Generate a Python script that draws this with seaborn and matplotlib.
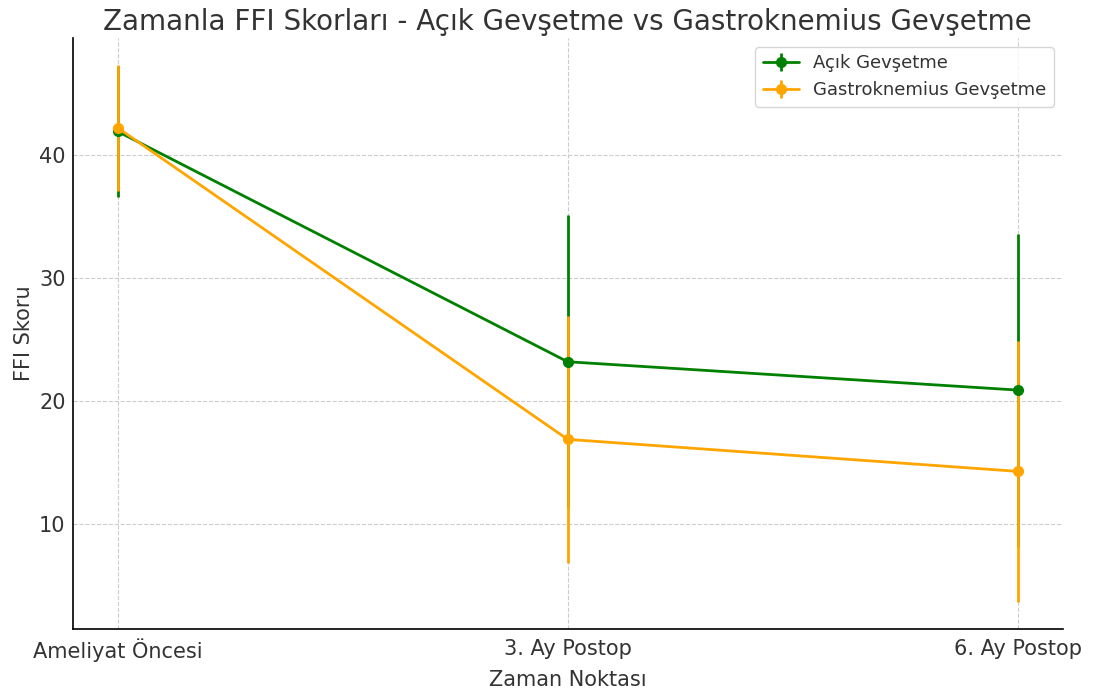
import matplotlib
matplotlib.use("Agg")
import matplotlib.pyplot as plt
import seaborn as sns
import numpy as np

time_points = ["Ameliyat Öncesi", "3. Ay Postop", "6. Ay Postop"]
acik_mean = [41.9, 23.2, 20.9]
acik_sd = [5.3, 11.9, 12.7]
gastro_mean = [42.2, 16.9, 14.3]
gastro_sd = [5.1, 10.0, 10.6]

sns.set_theme(style="whitegrid")
plt.rcParams['font.family'] = ['DejaVu Sans']

fig, ax = plt.subplots(figsize=(10.99, 6.91), dpi=100)
x = np.arange(len(time_points))
ax.errorbar(x, acik_mean, yerr=acik_sd, color="green", marker="o", markersize=7,
            linewidth=2, elinewidth=2, capsize=0, label="Açık Gevşetme")
ax.errorbar(x, gastro_mean, yerr=gastro_sd, color="orange", marker="o", markersize=7,
            linewidth=2, elinewidth=2, capsize=0, label="Gastroknemius Gevşetme")

ax.set_xticks(x)
ax.set_xticklabels(time_points)
ax.set_title("Zamanla FFI Skorları - Açık Gevşetme vs Gastroknemius Gevşetme", fontsize=20, color="#333333")
ax.set_xlabel("Zaman Noktası", fontsize=15, color="#333333", labelpad=6)
ax.set_ylabel("FFI Skoru", fontsize=15, color="#333333")
ax.tick_params(axis="y", labelsize=15, colors="#333333", length=0, pad=5)
ax.tick_params(axis="x", labelsize=15, colors="#333333", length=0, pad=7)
ax.set_yticks([10, 20, 30, 40])
ax.grid(True, linestyle="--", color="#cccccc", linewidth=0.8)
sns.despine(ax=ax)
for s in ["left", "bottom"]:
    ax.spines[s].set_color("black")
    ax.spines[s].set_linewidth(1.2)
ax.set_facecolor("white")
leg = ax.legend(loc="upper right", fontsize=13, frameon=True)
for t in leg.get_texts():
    t.set_color("#333333")
fig.subplots_adjust(left=0.066, right=0.967, top=0.945, bottom=0.09)
fig.savefig("out.png", dpi=100)
